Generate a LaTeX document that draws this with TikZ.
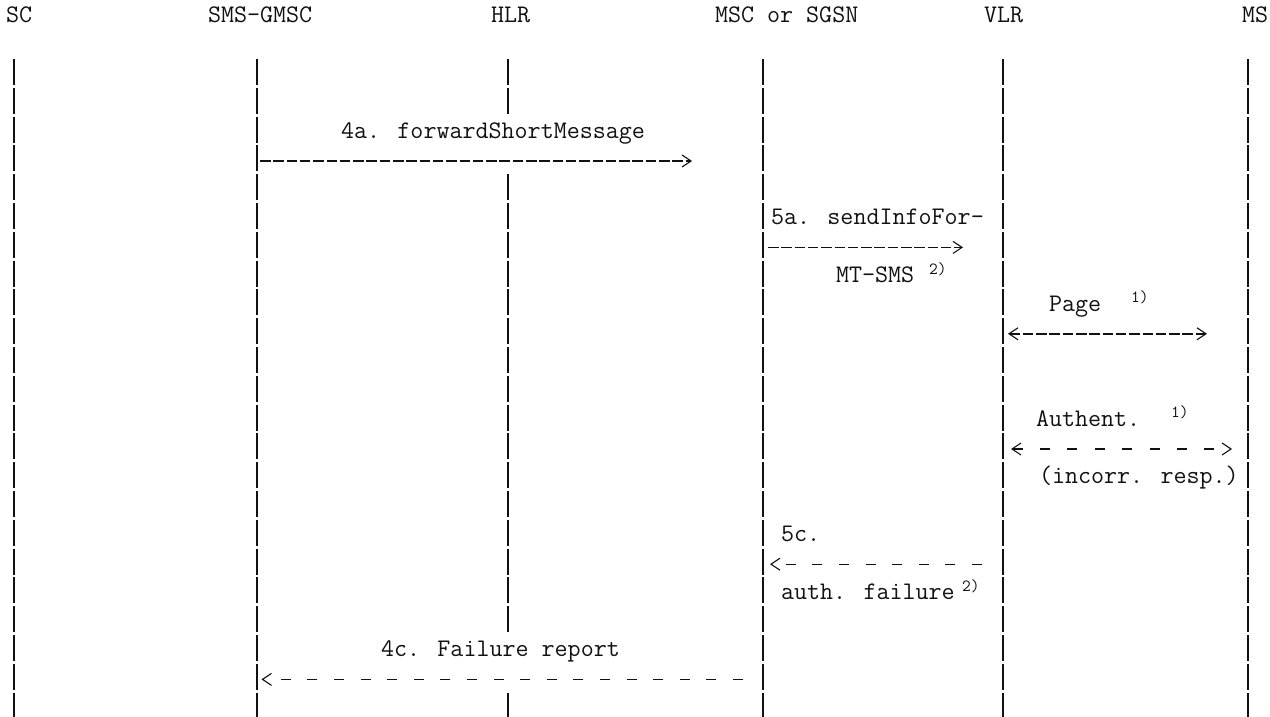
\documentclass[tikz,border=0pt]{standalone}
\usepackage{fontspec}
\usetikzlibrary{arrows.meta}
\newcommand{\chartfont}{\ttfamily\fontsize{25.3}{30}\selectfont}
\newcommand{\notefont}{\ttfamily\fontsize{17}{20}\selectfont}
\definecolor{inkcol}{HTML}{111111}

\begin{document}
\begin{tikzpicture}[
    x=1pt, y=-1pt,
    >={Straight Barb[length=9pt, width=12pt, line width=1.1pt]},
    every node/.style={font=\chartfont, text=inkcol, inner sep=0pt, outer sep=0pt, anchor=base west},
    lifeline/.style={draw=inkcol, line width=1.7pt, dash pattern=on 26pt off 2.8pt},
    solidmsg/.style={draw=inkcol, line width=1.4pt, dash pattern=on 10.5pt off 2.8pt},
    gapmsg/.style={draw=inkcol, line width=1.4pt, dash pattern=on 10pt off 16.6pt},
    fnote/.style={font=\notefont},
]
\useasboundingbox (0,0) rectangle (1270,717);

% === Entities (header row) ===
\node (sc)   at (6,23)    {SC};
\node (gmsc) at (208,23)  {SMS-GMSC};
\node (hlr)  at (491,23)  {HLR};
\node (msc)  at (715,23)  {MSC or SGSN};
\node (vlr)  at (984,23)  {VLR};
\node (ms)   at (1242,23) {MS};

% === Lifelines ===
\coordinate (sc-top)   at (14,59);   \coordinate (sc-bot)   at (14,717);
\coordinate (gmsc-top) at (257,59);  \coordinate (gmsc-bot) at (257,717);
\coordinate (msc-top)  at (763,59);  \coordinate (msc-bot)  at (763,717);
\coordinate (vlr-top)  at (1003,59); \coordinate (vlr-bot)  at (1003,717);
\coordinate (ms-top)   at (1248,59); \coordinate (ms-bot)   at (1248,717);
\draw[lifeline] (sc-top) -- (sc-bot);
\draw[lifeline] (gmsc-top) -- (gmsc-bot);
\draw[lifeline] (msc-top) -- (msc-bot);
\draw[lifeline] (vlr-top) -- (vlr-bot);
\draw[lifeline] (ms-top) -- (ms-bot);

% HLR line is broken where the GMSC messages cross it
\coordinate (hlr-top) at (508,59);    \coordinate (hlr-a) at (508,113.8);
\coordinate (hlr-b)   at (508,174.2); \coordinate (hlr-c) at (508,632.6);
\coordinate (hlr-d)   at (508,692.6); \coordinate (hlr-bot) at (508,717);
\draw[lifeline] (hlr-top) -- (hlr-a);
\draw[lifeline] (hlr-b) -- (hlr-c);
\draw[lifeline] (hlr-d) -- (hlr-bot);

% === 4a: forwardShortMessage ===
\coordinate (fsm-s) at (260,161);
\coordinate (fsm-e) at (692,161);
\draw[solidmsg, ->] (fsm-s) -- (fsm-e);
\node (lbl-fsm) at (341,138.2) {4a. forwardShortMessage};

% === 5a: sendInfoForMT-SMS ===
\coordinate (sif-s) at (768,247.4);
\coordinate (sif-e) at (963,247.4);
\draw[solidmsg, ->] (sif-s) -- (sif-e);
\node (lbl-sif)   at (771,224.6) {5a. sendInfoFor-};
\node (lbl-mtsms) at (836,282.2) {MT-SMS};
\node[fnote] (fn-mtsms) at (929,274) {2)};

% === Page ===
\coordinate (pg-s) at (1008,333.8);
\coordinate (pg-e) at (1207,333.8);
\draw[solidmsg, <->] (pg-s) -- (pg-e);
\node (lbl-page) at (1049,311) {Page};
\node[fnote] (fn-page) at (1131,302) {1)};

% === Authentication ===
\coordinate (au-s) at (1011,449);
\coordinate (au-e) at (1232,449);
\draw[gapmsg, dash pattern=on 10pt off 17.4pt, <->] (au-s) -- (au-e);
\node (lbl-auth)   at (1036,426.2) {Authent.};
\node[fnote] (fn-auth) at (1171,417) {1)};
\node (lbl-incorr) at (1039,483.8) {(incorr. resp.)};

% === 5c: auth. failure (VLR back to MSC) ===
\coordinate (af-s) at (982,564.2);
\coordinate (af-e) at (770,564.2);
\draw[gapmsg, ->] (af-s) -- (af-e);
\node (lbl-5c)       at (781,541.4) {5c.};
\node (lbl-authfail) at (781,599)   {auth. failure};
\node[fnote] (fn-authfail) at (962,591) {2)};

% === 4c: Failure report (MSC back to GMSC) ===
\coordinate (fr-s) at (743,679.4);
\coordinate (fr-e) at (261.5,679.4);
\draw[gapmsg, ->] (fr-s) -- (fr-e);
\node (lbl-fr) at (381,656.6) {4c. Failure report};

\end{tikzpicture}
\end{document}
